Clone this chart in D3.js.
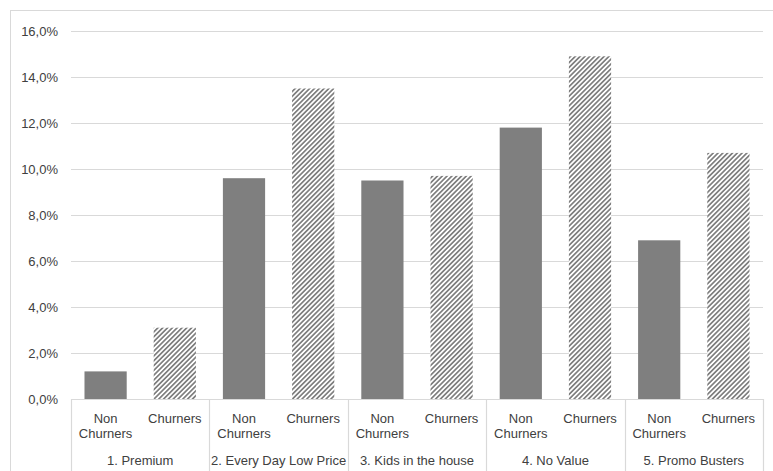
<!DOCTYPE html>
<html>
<head>
<meta charset="utf-8">
<script src="https://cdn.jsdelivr.net/npm/d3@7"></script>
<style>
  html, body { margin: 0; padding: 0; background: #fff; }
  svg { display: block; }
  text { font-family: "Liberation Sans", Arial, sans-serif; font-size: 13px; fill: #404040; }
</style>
</head>
<body>
<svg id="chart" width="773" height="471"></svg>
<script>
// Segments and the two groups shown within each
const segments = ["1. Premium", "2. Every Day Low Price", "3. Kids in the house", "4. No Value", "5. Promo Busters"];
const groups = ["Non Churners", "Churners"];
// Share per segment (%)
const nonChurners = [1.2, 9.6, 9.5, 11.8, 6.9];
const churners = [3.1, 13.5, 9.7, 14.9, 10.7];
const yTicks = [0, 2, 4, 6, 8, 10, 12, 14, 16];

const svg = d3.select("#chart");
const margin = { left: 71, right: 10, top: 31, bottom: 72 };
const W = 773, H = 471;
const plotBottom = H - margin.bottom; // 399
const plotRight = W - margin.right;   // 763

// Hatch pattern for the churner bars
const defs = svg.append("defs");
const pat = defs.append("pattern")
  .attr("id", "hatch")
  .attr("patternUnits", "userSpaceOnUse")
  .attr("width", 3.4).attr("height", 3.4)
  .attr("patternTransform", "rotate(45)");
pat.append("rect").attr("width", 3.4).attr("height", 3.4).attr("fill", "#ffffff");
pat.append("rect").attr("width", 1.7).attr("height", 3.4).attr("fill", "#7f7f7f");

// Outer frame
svg.append("rect")
  .attr("x", 10.5).attr("y", 10.5)
  .attr("width", W + 20).attr("height", H + 20)
  .attr("fill", "none").attr("stroke", "#d9d9d9").attr("stroke-width", 1);

const y = d3.scaleLinear().domain([0, 16]).range([plotBottom, margin.top]);

const x0 = d3.scaleBand().domain(segments).range([margin.left, plotRight]).padding(0);
const x1 = d3.scaleBand().domain(groups).range([0, x0.bandwidth()]).paddingInner(0.39).paddingOuter(0.195);

// Gridlines
svg.append("g")
  .selectAll("line")
  .data(yTicks)
  .join("line")
  .attr("x1", margin.left).attr("x2", plotRight)
  .attr("y1", d => Math.round(y(d)) + 0.5).attr("y2", d => Math.round(y(d)) + 0.5)
  .attr("stroke", "#d9d9d9").attr("stroke-width", 1.2);

// Y axis labels
const fmt = d => d3.format(".1f")(d).replace(".", ",") + "%";
const yAxis = d3.axisLeft(y).tickValues(yTicks).tickFormat(fmt).tickSize(0).tickPadding(13);
const yg = svg.append("g").attr("transform", `translate(${margin.left},0)`).call(yAxis);
yg.select(".domain").remove();
yg.selectAll("text").attr("font-size", null).attr("font-family", null).attr("fill", null);

// Bars
const rows = segments.map((s, i) => ({ seg: s, values: [
  { g: groups[0], v: nonChurners[i] },
  { g: groups[1], v: churners[i] }
]}));

const segG = svg.append("g").selectAll("g")
  .data(rows)
  .join("g")
  .attr("transform", d => `translate(${x0(d.seg)},0)`);

segG.selectAll("rect")
  .data(d => d.values)
  .join("rect")
  .attr("x", d => x1(d.g))
  .attr("width", x1.bandwidth())
  .attr("y", d => y(d.v))
  .attr("height", d => plotBottom - y(d.v))
  .attr("fill", d => d.g === "Churners" ? "url(#hatch)" : "#7f7f7f");

// Category axis: baseline and segment dividers
svg.append("line")
  .attr("x1", margin.left).attr("x2", plotRight + 0.5)
  .attr("y1", plotBottom + 0.5).attr("y2", plotBottom + 0.5)
  .attr("stroke", "#d9d9d9").attr("stroke-width", 1.2);

const dividers = segments.map(s => x0(s)).concat([plotRight]);
svg.append("g").selectAll("line")
  .data(dividers)
  .join("line")
  .attr("x1", d => Math.round(d) + 0.5).attr("x2", d => Math.round(d) + 0.5)
  .attr("y1", plotBottom).attr("y2", H)
  .attr("stroke", "#d9d9d9").attr("stroke-width", 1.2);

// Group labels
const lbl = svg.append("g");
rows.forEach(r => {
  r.values.forEach(v => {
    const cx = x0(r.seg) + x1(v.g) + x1.bandwidth() / 2;
    const t = lbl.append("text").attr("text-anchor", "middle");
    const words = v.g === "Non Churners" ? ["Non", "Churners"] : ["Churners"];
    words.forEach((w, i) => {
      t.append("tspan").attr("x", cx).attr("y", 423 + i * 15).text(w);
    });
  });
  lbl.append("text")
    .attr("text-anchor", "middle")
    .attr("x", x0(r.seg) + x0.bandwidth() / 2)
    .attr("y", 465)
    .text(r.seg);
});
</script>
</body>
</html>
